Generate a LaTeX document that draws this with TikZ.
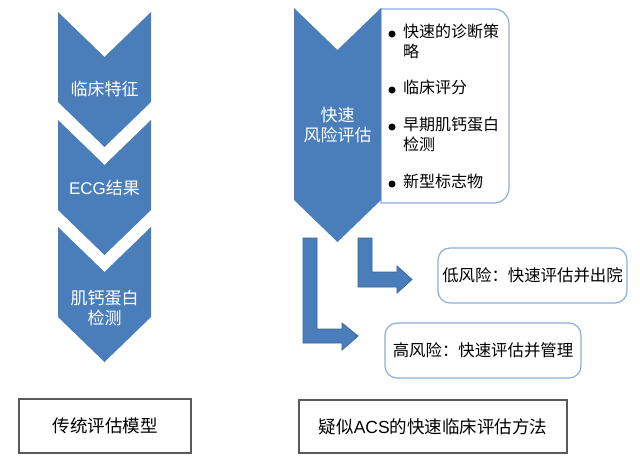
\documentclass[tikz,border=0pt]{standalone}
\usepackage{fontspec}
\setmainfont{Noto Sans CJK SC}
\newfontfamily\lat{Liberation Sans}
\definecolor{cblue}{HTML}{4A7EBB}
\definecolor{cdark}{HTML}{3A6597}
\definecolor{cedge}{HTML}{8CAFD9}
\definecolor{gbox}{HTML}{5A5A5A}
\begin{document}
\begin{tikzpicture}[x=1pt,y=-1pt,
  chev/.style={fill=cblue},
  bent/.style={fill=cblue,draw=cdark,line width=0.8pt},
  wtxt/.style={text=white,font=\fontsize{17}{20}\selectfont,align=center,inner sep=0pt},
  btxt/.style={text=black,font=\fontsize{16}{20}\selectfont,align=left,inner sep=0pt,anchor=north west},
  bul/.style={circle,fill=black,inner sep=0pt,minimum size=7pt},
  rbox/.style={draw=cedge,line width=1.2pt,rounded corners=12pt,fill=white,minimum width=#1,minimum height=55pt,inner sep=0pt,font=\fontsize{16.4}{20}\selectfont},
  gray box/.style={draw=gbox,line width=1.6pt,fill=white,inner sep=0pt,font=\fontsize{17.5}{20}\selectfont}]
\useasboundingbox (0,0) rectangle (640,464);
\fill[white] (0,0) rectangle (640,464);

% left chevrons
\foreach \t in {12,120,227}{
  \path[chev] (58,\t) -- (104.5,\t+45) -- (151,\t) -- (151,\t+90) -- (104.5,\t+135) -- (58,\t+90) -- cycle;
}
\node[wtxt] (c1) at (104.5,89) {临床特征};
\node[wtxt] (c2) at (104.5,188) {{\lat ECG}结果};
\node[wtxt] (c3) at (104.5,308) {肌钙蛋白\\检测};

% right list box and chevron
\coordinate (lb1) at (381,9);
\coordinate (lb2) at (509,203);
\draw[draw=cedge,line width=1.2pt,fill=white]
  (lb1) -- (494,9) arc[start angle=90,end angle=0,radius=15pt] -- (509,188)
  arc[start angle=0,end angle=-90,radius=15pt] -- (381,203) -- cycle;
\path[chev] (294,8) -- (337.5,50) -- (381,8) -- (381,200) -- (337.5,242) -- (294,200) -- cycle;
\node[wtxt] (main) at (337.5,125.5) {快速\\风险评估};

\node[bul] (d1) at (392,34) {};
\node[btxt] (t1) at (403,24) {快速的诊断策\\略};
\node[bul] (d2) at (392,90) {};
\node[btxt] (t2) at (403,80) {临床评分};
\node[bul] (d3) at (392,127) {};
\node[btxt] (t3) at (403,117) {早期肌钙蛋白\\检测};
\node[bul] (d4) at (392,184) {};
\node[btxt] (t4) at (403,174) {新型标志物};

% bent arrows
\path[bent] (303,238) -- (317,238) -- (317,329) -- (342,329) -- (342,323) -- (358,336) -- (342,350) -- (342,343) -- (303,343) -- cycle;
\path[bent] (358,238) -- (372,238) -- (372,272) -- (397,272) -- (397,266) -- (412,279.5) -- (397,293) -- (397,287) -- (358,287) -- cycle;

% outcome boxes
\node[rbox=189pt] (low) at (532.5,275.5) {低风险：快速评估并出院};
\node[rbox=196pt] (high) at (483,350.5) {高风险：快速评估并管理};

% bottom labels
\node[gray box,minimum width=172pt,minimum height=54pt] (lt) at (105,426) {传统评估模型};
\node[gray box,minimum width=268pt,minimum height=53pt] (rt) at (433,426.5) {疑似{\lat ACS}的快速临床评估方法};
\end{tikzpicture}
\end{document}
